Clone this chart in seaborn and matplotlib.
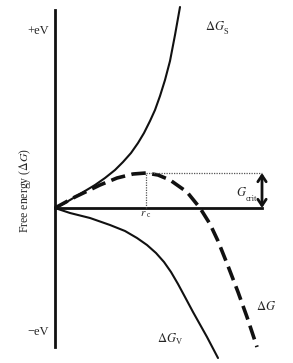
import matplotlib
matplotlib.use("Agg")
import matplotlib.pyplot as plt
import seaborn as sns
import pandas as pd

# Curves (r, free energy) (origin = axes crossing)
gs_r = [0, 10, 20, 30, 40, 50, 60, 68, 76, 83, 89, 95, 100, 105, 110, 115, 120, 125]
gs_g = [0, 5, 11, 17, 23, 30, 38, 46, 55, 65, 75, 87, 98, 112, 128, 147, 173, 201]

gv_r = [0, 15, 35, 55, 70, 82, 92, 101, 109, 116, 123, 130, 138, 152, 163]
gv_g = [0, -5, -10, -17, -23, -30, -37, -45, -54, -64, -76, -89, -104, -129, -150]

g_r = [0, 20, 45, 62, 78, 91, 103, 115, 132, 145, 155, 163, 173, 183, 192, 202]
g_g = [0, 11, 23, 30, 34, 35, 33, 28, 16, 0, -16, -33, -58, -84, -109, -139]

r_crit = 91
g_crit = 35

sns.set_style("white")
plt.rcParams["font.family"] = ["Liberation Serif", "DejaVu Serif"]
plt.rcParams["mathtext.fontset"] = "stix"

fig = plt.figure(figsize=(2.93, 3.63), dpi=100)
ax = fig.add_axes([0, 0, 1, 1])
ax.set_xlim(-55, 238)
ax.set_ylim(-155, 208)

gs = pd.DataFrame({"r": gs_r, "g": gs_g})
gv = pd.DataFrame({"r": gv_r, "g": gv_g})
gt = pd.DataFrame({"r": g_r, "g": g_g})

sns.lineplot(data=gs, x="r", y="g", sort=False, estimator=None, color="#111111", lw=1.5, ax=ax)
sns.lineplot(data=gv, x="r", y="g", sort=False, estimator=None, color="#111111", lw=1.5, ax=ax)
sns.lineplot(data=gt, x="r", y="g", sort=False, estimator=None, color="#111111", lw=2.6,
             dashes=False, ax=ax).lines[-1].set_dashes((4, 1.8))
for ln in ax.lines:
    ln.set_solid_joinstyle("round")
    ln.set_dash_joinstyle("round")

# axes as spines through the origin
for s in ["top", "right"]:
    ax.spines[s].set_visible(False)
ax.spines["left"].set_position(("data", 0))
ax.spines["left"].set_bounds(-139, 198)
ax.spines["bottom"].set_position(("data", 0))
ax.spines["bottom"].set_bounds(0, 207)
for s in ["left", "bottom"]:
    ax.spines[s].set_linewidth(2.0)
    ax.spines[s].set_color("#111111")
    ax.spines[s].set_zorder(1)
ax.set_xticks([])
ax.set_yticks([])
ax.set_xlabel("")
ax.set_ylabel("")

# critical size guides
ax.plot([r_crit, r_crit], [0, g_crit], color="#555555", lw=0.9, ls=(0, (1, 1)))
ax.plot([r_crit, 207], [g_crit, g_crit], color="#555555", lw=0.9, ls=(0, (1, 1)))
ax.annotate("", xy=(207, 0), xytext=(207, g_crit),
            arrowprops=dict(arrowstyle="<->,head_length=0.45,head_width=0.3",
                            lw=2.0, color="#111111", shrinkA=0, shrinkB=0))

fs = 9
sub = 6
ax.text(-6, 177, "+eV", ha="right", va="center", fontsize=fs)
ax.text(-6, -124, "\u2212eV", ha="right", va="center", fontsize=fs)

ax.text(150, 181, r"$\Delta G$", ha="left", va="center", fontsize=fs)
ax.text(169, 176, "S", ha="left", va="center", fontsize=sub)

ax.text(201, -98, r"$\Delta G$", ha="left", va="center", fontsize=fs)

ax.text(102, -131, r"$\Delta G$", ha="left", va="center", fontsize=fs)
ax.text(121, -134, "V", ha="left", va="center", fontsize=sub)

ax.text(181, 15, r"$G$", ha="left", va="center", fontsize=fs)
ax.text(191, 9, "crit", ha="left", va="center", fontsize=sub)

ax.text(88.5, -5, r"$r$", ha="center", va="center", fontsize=8)
ax.text(92, -7, "c", ha="left", va="center", fontsize=5.5)

ax.text(-30, 17, r"Free energy ($\Delta G$)", rotation=90, ha="center", va="center", fontsize=8.5)

fig.savefig("out.png", dpi=100)
